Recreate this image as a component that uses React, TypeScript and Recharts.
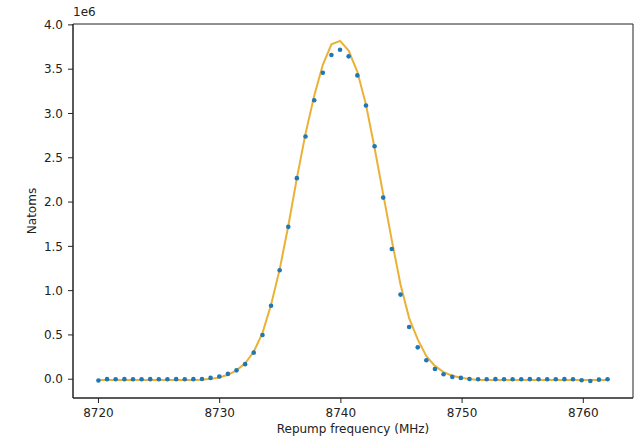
import React from "react";
import {
  ComposedChart,
  Scatter,
  Line,
  XAxis,
  YAxis,
  ReferenceArea,
} from "recharts";

// repump frequency scan (MHz), 60 points
const freq = [
  8720.0, 8720.71, 8721.42, 8722.14, 8722.85, 8723.56, 8724.27, 8724.98, 8725.69, 8726.41,
  8727.12, 8727.83, 8728.54, 8729.25, 8729.97, 8730.68, 8731.39, 8732.1, 8732.81, 8733.53,
  8734.24, 8734.95, 8735.66, 8736.37, 8737.08, 8737.8, 8738.51, 8739.22, 8739.93, 8740.64,
  8741.36, 8742.07, 8742.78, 8743.49, 8744.2, 8744.92, 8745.63, 8746.34, 8747.05, 8747.76,
  8748.47, 8749.19, 8749.9, 8750.61, 8751.32, 8752.03, 8752.75, 8753.46, 8754.17, 8754.88,
  8755.59, 8756.31, 8757.02, 8757.73, 8758.44, 8759.15, 8759.86, 8760.58, 8761.29, 8762.0,
];

// measured atom number, units of 1e6
const natoms = [
  -0.015, 0.001, 0.0, 0.001, 0.0, 0.0, 0.001, 0.0, 0.0, 0.001,
  0.0, 0.001, 0.002, 0.015, 0.03, 0.06, 0.1, 0.17, 0.3, 0.5,
  0.83, 1.23, 1.72, 2.27, 2.74, 3.15, 3.46, 3.66, 3.72, 3.645,
  3.43, 3.09, 2.63, 2.05, 1.47, 0.955, 0.59, 0.36, 0.214, 0.116,
  0.056, 0.026, 0.015, 0.002, 0.0, 0.0, 0.001, 0.0, 0.0, 0.0,
  0.001, 0.0, 0.0, 0.0, 0.001, 0.0, -0.012, -0.02, -0.005, 0.0,
];

// gaussian fit, units of 1e6
const fit = [
  -0.01, -0.01, -0.01, -0.01, -0.01, -0.01, -0.01, -0.01, -0.01, -0.01,
  -0.01, -0.01, -0.006, 0.004, 0.02, 0.05, 0.1, 0.18, 0.31, 0.52,
  0.84, 1.24, 1.73, 2.27, 2.77, 3.2, 3.55, 3.78, 3.82, 3.71,
  3.47, 3.1, 2.61, 2.09, 1.57, 1.07, 0.69, 0.45, 0.26, 0.15,
  0.08, 0.04, 0.016, 0.002, -0.008, -0.008, -0.008, -0.008, -0.008, -0.008,
  -0.008, -0.008, -0.008, -0.008, -0.008, -0.008, -0.008, -0.008, -0.008, -0.008,
];

const xTicks = [8720, 8730, 8740, 8750, 8760];
const yTicks = [0, 0.5, 1.0, 1.5, 2.0, 2.5, 3.0, 3.5, 4.0];

const xDomain: [number, number] = [8717.9, 8764.1];
const yDomain: [number, number] = [-0.212, 4.01];

const data = freq.map((f, i) => ({ freq: f, natoms: natoms[i], fit: fit[i] }));

const FONT = "'DejaVu Sans', sans-serif";
const INK = "#222";

export default function App() {
  return (
    <div style={{ position: "absolute", left: 0, top: 0, width: 639, height: 438, background: "#fff", fontFamily: FONT }}>
      <ComposedChart
        width={639}
        height={438}
        data={data}
        margin={{ top: 24, right: 6, left: 0, bottom: 0 }}
      >
        <XAxis
          dataKey="freq"
          type="number"
          domain={xDomain}
          ticks={xTicks}
          allowDataOverflow
          height={40}
          stroke={INK}
          tickSize={5}
          tickMargin={5}
          tick={{ fill: INK, fontSize: 12, fontFamily: FONT }}
          label={{
            value: "Repump frequency (MHz)",
            position: "insideBottom",
            offset: 5,
            fill: INK,
            fontSize: 12,
            fontFamily: FONT,
          }}
        />
        <YAxis
          type="number"
          domain={yDomain}
          ticks={yTicks}
          allowDataOverflow
          width={73}
          stroke={INK}
          tickSize={5}
          tickMargin={5}
          tick={{ fill: INK, fontSize: 12, fontFamily: FONT }}
          tickFormatter={(v) => Number(v).toFixed(1)}
          label={{
            value: "Natoms",
            angle: -90,
            position: "insideLeft",
            offset: 32,
            fill: INK,
            fontSize: 12,
            fontFamily: FONT,
            style: { textAnchor: "middle" },
          }}
        />

        {/* top/right spines */}
        <ReferenceArea
          x1={xDomain[0]}
          x2={xDomain[1]}
          y1={yDomain[0]}
          y2={yDomain[1]}
          fill="none"
          stroke={INK}
          strokeWidth={1}
          ifOverflow="visible"
        />

        <Scatter
          dataKey="natoms"
          fill="#1f77b4"
          isAnimationActive={false}
          shape={(p: any) => <circle cx={p.cx} cy={p.cy} r={2.3} fill="#1f77b4" />}
        />
        <Line
          type="linear"
          dataKey="fit"
          stroke="#e8a820"
          strokeWidth={2}
          strokeOpacity={0.9}
          dot={false}
          activeDot={false}
          isAnimationActive={false}
        />
      </ComposedChart>
      <div
        style={{
          position: "absolute",
          left: 73,
          top: 5,
          fontSize: 12,
          lineHeight: "14px",
          color: INK,
        }}
      >
        1e6
      </div>
    </div>
  );
}
